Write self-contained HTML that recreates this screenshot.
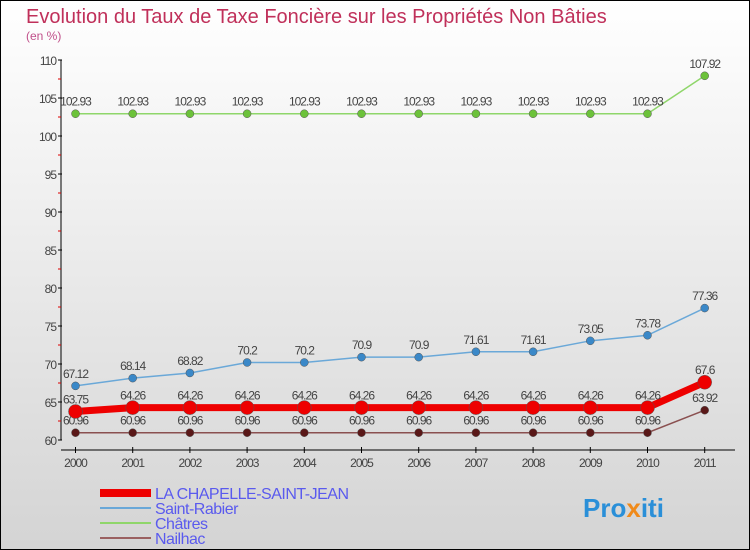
<!DOCTYPE html>
<html><head><meta charset="utf-8"><style>
body{margin:0}
#c{width:750px;height:550px;position:relative;box-sizing:border-box;border:1px solid #000;background:linear-gradient(#ffffff,#d4d4d4);font-family:"Liberation Sans",sans-serif;overflow:hidden}
</style></head><body>
<div id="c">
<svg id="s" width="750" height="550" style="position:absolute;left:-1px;top:-1px">
<text x="26" y="23" font-size="20" fill="#c0305a">Evolution du Taux de Taxe Foncière sur les Propriétés Non Bâties</text>
<text x="26" y="40" font-size="12" fill="#c0508a">(en %)</text>
<g id="axes"></g><g id="series"></g><g id="legend"></g>
<text x="583" y="517" font-size="26" font-weight="bold" fill="#2a8fd8">Pro<tspan fill="#f08a1a">x</tspan>iti</text>
</svg>
</div>
<script>
const years=["2000","2001","2002","2003","2004","2005","2006","2007","2008","2009","2010","2011"];
const yTicks=[60,65,70,75,80,85,90,95,100,105,110];
const seriesNames=["LA CHAPELLE-SAINT-JEAN","Saint-Rabier","Châtres","Nailhac"];
const chapelle=[63.75,64.26,64.26,64.26,64.26,64.26,64.26,64.26,64.26,64.26,64.26,67.6];
const rabier=[67.12,68.14,68.82,70.2,70.2,70.9,70.9,71.61,71.61,73.05,73.78,77.36];
const chatres=[102.93,102.93,102.93,102.93,102.93,102.93,102.93,102.93,102.93,102.93,102.93,107.92];
const nailhac=[60.96,60.96,60.96,60.96,60.96,60.96,60.96,60.96,60.96,60.96,60.96,63.92];
const NS="http://www.w3.org/2000/svg";
const X=i=>75.5+i*57.2;
const Y=v=>440-(v-60)*7.6;
function mk(t,a,p){const e=document.createElementNS(NS,t);for(const k in a)e.setAttribute(k,a[k]);p.appendChild(e);return e;}
const ax=document.getElementById('axes');
let l=mk('line',{x1:61,y1:Y(110),x2:61,y2:Y(60),stroke:'#000'},ax);


l=mk('line',{x1:61,y1:450,x2:735,y2:450,stroke:'#000'},ax);


yTicks.forEach(v=>{
 mk('line',{x1:58,y1:Y(v),x2:62,y2:Y(v),stroke:'#000'},ax);
 if(v<110)mk('line',{x1:58,y1:Y(v+2.5),x2:61,y2:Y(v+2.5),stroke:'#d00'},ax);
 const t=mk('text',{x:56,y:Y(v)+5,'text-anchor':'end','font-size':12,fill:'#444','letter-spacing':'-1'},ax);
 t.textContent=v;
 
 
});
years.forEach((y,i)=>{
 mk('line',{x1:X(i),y1:447,x2:X(i),y2:453,stroke:'#000'},ax);
 const t=mk('text',{x:X(i),y:467,'text-anchor':'middle','font-size':12,fill:'#444','letter-spacing':'-1'},ax);
 t.textContent=y;
 
 
});
const sg=document.getElementById('series');
const defs=[[chatres,'#8fd66a','#6cc23a',1.5,4,'chatres'],[rabier,'#6aa8d8','#3a88c8',1.5,4,'saint-rabier'],[nailhac,'#8a5050','#5a1818',1.5,4,'nailhac'],[chapelle,'#ee0000','#ee0000',7,7,'la-chapelle-saint-jean']];
defs.forEach(([d,lc,pc,w,r,n])=>{
 const pl=mk('polyline',{points:d.map((v,i)=>X(i)+','+Y(v)).join(' '),fill:'none',stroke:lc,'stroke-width':w},sg);
 
 
 d.forEach((v,i)=>{
  const c=mk('circle',{cx:X(i),cy:Y(v),r:r,fill:pc,stroke:'#555','stroke-width':0.5},sg);
  
  
  const t=mk('text',{x:X(i),y:Y(v)-8,'text-anchor':'middle','font-size':12,fill:'#444','letter-spacing':'-1'},sg);
  t.textContent=v;
  
  
 });
});
const lg=document.getElementById('legend');
const lcols=['#ee0000','#6aa8d8','#8fd66a','#9a6060'],lw=[8,2,2,2];
seriesNames.forEach((n,i)=>{
 const y=493+i*15;
 const g=mk('g',{},lg);
 
 
 mk('line',{x1:100,y1:y,x2:151,y2:y,stroke:lcols[i],'stroke-width':lw[i]},g);
 const t=mk('text',{x:155,y:y+6,'font-size':16,fill:'#5a5aee','letter-spacing':'-0.5'},g);
 t.textContent=n;
});
</script>
</body></html>
